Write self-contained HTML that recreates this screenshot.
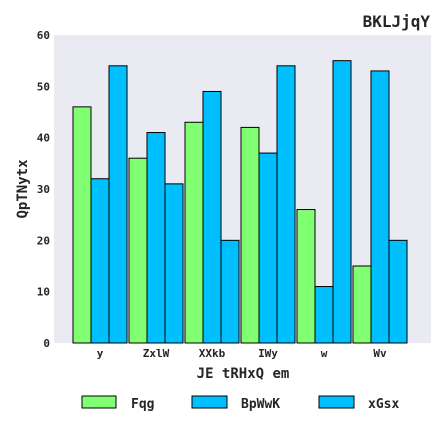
<!DOCTYPE html><html><head><meta charset="utf-8"><style>body{margin:0;background:#fff;overflow:hidden}svg{display:block}svg text{font-family:"DejaVu Sans Mono","Liberation Mono",monospace;font-weight:bold;fill:#262626}</style></head><body>
<svg width="444" height="444">
<text x="430" y="27" text-anchor="end" font-size="16">BKLJjqY</text>
<rect x="54" y="35" width="377" height="308" fill="#eaeaf2"/>
<g id="yt"></g><g id="bars"></g><g id="xt"></g>
<text x="243" y="378" text-anchor="middle" font-size="14">JE tRHxQ em</text>
<text transform="translate(27,189) rotate(-90)" text-anchor="middle" font-size="14">QpTNytx</text>
<g id="legend"></g>
</svg>
<script>
const categories=["y","ZxlW","XXkb","IWy","w","Wv"];
const seriesNames=["Fqg","BpWwK","xGsx"];
const fqg=[46,36,43,42,26,15];
const bpwwk=[32,41,49,37,11,53];
const xgsx=[54,31,20,54,55,20];
const yTicks=[0,10,20,30,40,50,60];
const colors=["#80ff72","#00bfff","#00bfff"];
const series=[fqg,bpwwk,xgsx];
const NS="http://www.w3.org/2000/svg";
const y0=343,yTop=35,yMax=60;
const ys=v=>y0-(v/yMax)*(y0-yTop);
const gx=i=>100+i*56;
const bw=18;
const yt=document.getElementById('yt');
yTicks.forEach(t=>{const e=document.createElementNS(NS,'text');e.setAttribute('x',50);e.setAttribute('y',ys(t)+4);e.setAttribute('text-anchor','end');e.setAttribute('font-size','11');e.textContent=t;


yt.appendChild(e);});
const bars=document.getElementById('bars');
series.forEach((s,si)=>s.forEach((v,i)=>{const r=document.createElementNS(NS,'rect');const x=gx(i)-27+si*bw;r.setAttribute('x',x);r.setAttribute('y',ys(v));r.setAttribute('width',bw);r.setAttribute('height',y0-ys(v));r.setAttribute('fill',colors[si]);r.setAttribute('stroke','#000');r.setAttribute('stroke-width','1');


bars.appendChild(r);}));
const xt=document.getElementById('xt');
categories.forEach((c,i)=>{const e=document.createElementNS(NS,'text');e.setAttribute('x',gx(i));e.setAttribute('y',357);e.setAttribute('text-anchor','middle');e.setAttribute('font-size','11');e.textContent=c;


xt.appendChild(e);});
const lg=document.getElementById('legend');
const lx=[82,192,319];
seriesNames.forEach((n,i)=>{const r=document.createElementNS(NS,'rect');r.setAttribute('x',lx[i]);r.setAttribute('y',396);r.setAttribute('width',i==0?34:35);r.setAttribute('height',12);r.setAttribute('fill',colors[i]);r.setAttribute('stroke','#000');


lg.appendChild(r);
const t=document.createElementNS(NS,'text');t.setAttribute('x',lx[i]+49);t.setAttribute('y',408);t.setAttribute('font-size','13');t.textContent=n;


lg.appendChild(t);});
</script></body></html>
